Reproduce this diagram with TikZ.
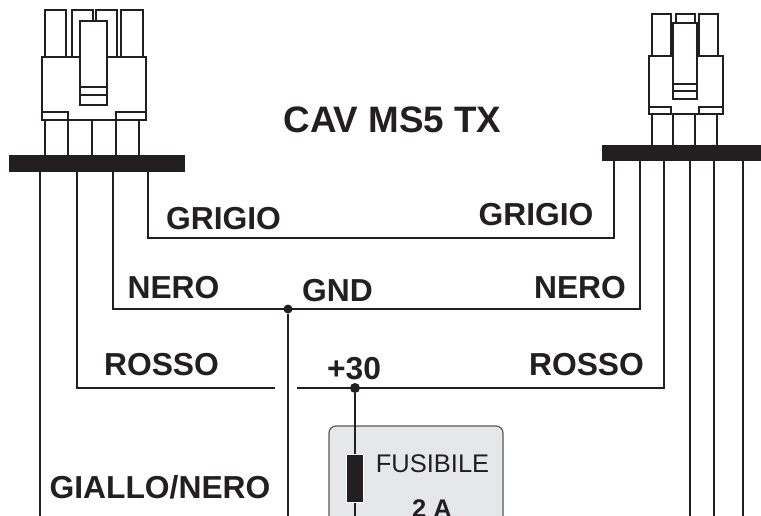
\documentclass[tikz,border=0pt]{standalone}
\usepackage{fontspec}
\setmainfont{Liberation Sans}
\usetikzlibrary{positioning}
\definecolor{wireblack}{RGB}{35,31,32}
\definecolor{fusegray}{RGB}{230,231,232}
\tikzset{
	wire/.style={draw=wireblack, line width=2.3pt},
	conn/.style={draw=wireblack, line width=2.8pt, line join=miter},
	bus/.style={fill=wireblack},
	dotjoint/.style={circle, fill=wireblack, inner sep=0pt, minimum size=#1},
	lab/.style={text=wireblack, inner sep=0pt, font=\fontsize{31.8}{32}\selectfont\bfseries},
	title/.style={text=wireblack, inner sep=0pt, font=\fontsize{36.8}{37}\selectfont\bfseries},
	fuselab/.style={text=wireblack, inner sep=0pt, font=\fontsize{25.5}{26}\selectfont},
}
\begin{document}
\begin{tikzpicture}[x=1pt, y=-1pt]
		\useasboundingbox (0,0) rectangle (761,516);
		\clip (0,0) rectangle (761,516);
		% left plug
		\foreach \a/\b in {72/93, 96/117, 45/66, 121/143} {
			\draw[conn] (\a,57) -- (\a,10) -- (\b,10) -- (\b,57);
		}
		\draw[conn, fill=white] (42,57) rectangle (146,120);
		\draw[conn, fill=white] (80,21) rectangle (107,105);
		\draw[conn] (80,87) -- (107,87);
		\draw[conn] (80,95) -- (107,95);
		\draw[conn] (42,112) -- (68,112) -- (68,120);
		\draw[conn] (116,120) -- (116,112) -- (146,112);
		\foreach \x in {45,68,92,116,139} {
			\draw[conn] (\x,120) -- (\x,156);
		}
		\fill[bus] (9,155) rectangle (185,172);
		% right plug
		\foreach \a/\b in {652/671, 676/695, 699/718} {
			\draw[conn] (\a,56) -- (\a,14) -- (\b,14) -- (\b,56);
		}
		\draw[conn, fill=white] (649,56) rectangle (723,114);
		\draw[conn, fill=white] (673,23) rectangle (697,99);
		\draw[conn] (673,84) -- (697,84);
		\draw[conn] (673,91) -- (697,91);
		\draw[conn] (649,107) -- (671,107) -- (671,114);
		\draw[conn] (699,114) -- (699,107) -- (723,107);
		\foreach \x in {652,673,695,717} {
			\draw[conn] (\x,114) -- (\x,146);
		}
		\fill[bus] (602,145) rectangle (761,161);
		% wire ends
		\coordinate (grigioL) at (148,172);
		\coordinate (neroL) at (113,172);
		\coordinate (rossoL) at (77,172);
		\coordinate (gialloL) at (40,172);
		\coordinate (grigioR) at (614,161);
		\coordinate (neroR) at (640,161);
		\coordinate (rossoR) at (664,161);
		\coordinate (rossoEndL) at (275,388);
		\coordinate (rossoEndR) at (297,388);
		\coordinate (grigioB) at (148,238);
		\coordinate (neroB) at (113,309);
		% fuse box
		\draw[draw=wireblack!75, line width=1.2pt, fill=fusegray, rounded corners=7pt] (329,426) rectangle (503,540);
		% wires
		\draw[wire] (grigioL) -- (grigioB) -| (grigioR);
		\draw[wire] (neroL) -- (neroB) -| (neroR);
		\draw[wire] (rossoL) |- (rossoEndL);
		\draw[wire] (rossoEndR) -| (rossoR);
		\draw[wire] (gialloL) -- (40,516);
		\foreach \x in {690,714,743} {
			\draw[wire] (\x,161) -- (\x,516);
		}
		\node[dotjoint=9pt] (gnd) at (288,309) {};
		\node[dotjoint=10pt] (piu) at (355,388) {};
		\draw[wire] (gnd) -- (288,516);
		\node[draw=white, line width=0.8pt, fill=wireblack, minimum width=17pt, minimum height=48pt, inner sep=0pt] (fuse) at (355,478.5) {};
		\draw[wire] (piu) -- (fuse);
		\draw[wire] (fuse) -- (355,516);
		% labels
		\node[title] (titolo) at (392.5,120) {CAV MS5 TX};
		\node[lab] (lgrigioL) at (223.5,219) {GRIGIO};
		\node[lab] (lgrigioR) at (536,215) {GRIGIO};
		\node[lab] (lneroL) at (173.5,288) {NERO};
		\node[lab] (lneroR) at (580,288) {NERO};
		\node[lab] (lgnd) at (337.5,291) {GND};
		\node[lab] (lrossoL) at (161.5,365) {ROSSO};
		\node[lab] (lrossoR) at (586.5,365) {ROSSO};
		\node[lab] (lpiu) at (354,369) {+30};
		\node[lab] (lgiallo) at (160,487.5) {GIALLO/NERO};
		\node[fuselab] (lfuse) at (432.5,464) {FUSIBILE};
		\node[fuselab, font=\fontsize{25.5}{26}\selectfont\bfseries] (lamp) at (432,509) {2 A};
	\end{tikzpicture}
\end{document}
